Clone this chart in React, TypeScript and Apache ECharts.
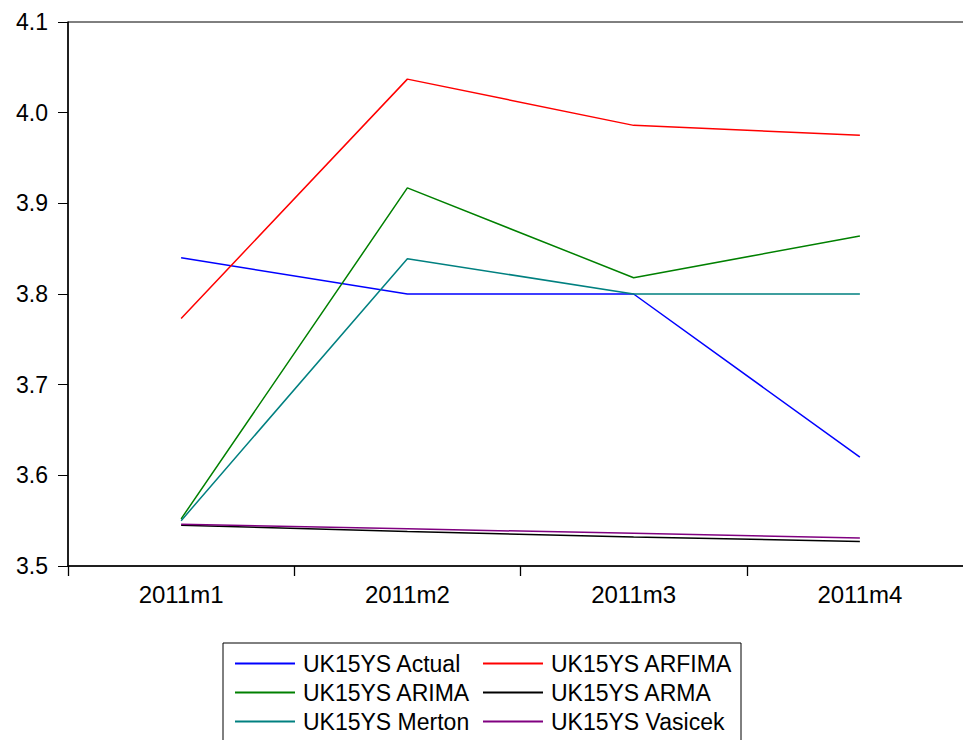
import React, { useEffect, useRef } from "react";
import * as echarts from "echarts";

const categories = ["2011m1", "2011m2", "2011m3", "2011m4"];
const seriesNames = [
  "UK15YS Actual",
  "UK15YS ARFIMA",
  "UK15YS ARIMA",
  "UK15YS ARMA",
  "UK15YS Merton",
  "UK15YS Vasicek",
];
const actual = [3.84, 3.8, 3.8, 3.62];
const arfima = [3.773, 4.037, 3.986, 3.975];
const arima = [3.552, 3.917, 3.818, 3.864];
const arma = [3.545, 3.538, 3.532, 3.527];
const merton = [3.55, 3.839, 3.8, 3.8];
const vasicek = [3.546, 3.541, 3.536, 3.531];
const colors = ["#0000FF", "#FF0000", "#008000", "#000000", "#008080", "#800080"];
const yTicks = [3.5, 3.6, 3.7, 3.8, 3.9, 4.0, 4.1];

const FONT = "'Liberation Sans', Arial, sans-serif";

export default function App() {
  const ref = useRef<HTMLDivElement>(null);
  useEffect(() => {
    if (!ref.current) return;
    const chart = echarts.init(ref.current, null, { renderer: "svg" });
    const data = [actual, arfima, arima, arma, merton, vasicek];
    const legendText = {
      color: "#000",
      fontSize: 23,
      fontFamily: FONT,
      lineHeight: 23,
      padding: [0, 0, 0, 3],
    };
    const legendBase = {
      orient: "vertical",
      top: 652,
      height: 120,
      width: 300,
      padding: 0,
      icon: "rect",
      itemWidth: 60,
      itemHeight: 2,
      itemGap: 6,
      textStyle: legendText,
    };
    chart.setOption({
      animation: false,
      backgroundColor: "#fff",
      grid: {
        left: 68,
        top: 22,
        width: 905,
        height: 544,
        outerBoundsMode: "none",
        containLabel: false,
        show: true,
        borderColor: "#000",
        borderWidth: 1,
        backgroundColor: "transparent",
      },
      xAxis: {
        type: "category",
        data: categories,
        boundaryGap: true,
        axisLine: { lineStyle: { color: "#000", width: 1.5 } },
        axisTick: { show: true, inside: false, length: 10, lineStyle: { color: "#000", width: 1.3 } },
        axisLabel: { color: "#000", fontSize: 24, fontFamily: FONT, margin: 16 },
        splitLine: { show: false },
      },
      yAxis: {
        type: "value",
        min: 3.5,
        max: 4.1,
        interval: 0.1,
        axisLine: { show: true, lineStyle: { color: "#000", width: 1.5 } },
        axisTick: { show: true, inside: false, length: 10, lineStyle: { color: "#000" } },
        axisLabel: {
          color: "#000",
          fontSize: 23,
          fontFamily: FONT,
          margin: 20,
          formatter: (v: number) => {
            const t = yTicks.find((x) => Math.abs(x - v) < 1e-6);
            return (t ?? v).toFixed(1);
          },
        },
        splitLine: { show: false },
      },
      legend: [
        {
          ...legendBase,
          left: 235,
          data: [seriesNames[0], seriesNames[2], seriesNames[4]],
        },
        {
          ...legendBase,
          left: 483,
          data: [seriesNames[1], seriesNames[3], seriesNames[5]],
        },
      ],
      graphic: [
        {
          type: "rect",
          shape: { x: 223, y: 643, width: 518, height: 120 },
          style: { fill: "transparent", stroke: "#000", lineWidth: 1 },
          z: 0,
        },
      ],
      series: seriesNames.map((name, i) => ({
        name,
        type: "line",
        data: data[i],
        showSymbol: false,
        symbol: "none",
        lineStyle: { color: colors[i], width: 1.5 },
        itemStyle: { color: colors[i] },
        emphasis: { disabled: true },
      })),
    });
    return () => chart.dispose();
  }, []);
  return (
    <div
      ref={ref}
      style={{ position: "fixed", left: 0, top: 0, width: 963, height: 740, background: "#fff" }}
    />
  );
}
